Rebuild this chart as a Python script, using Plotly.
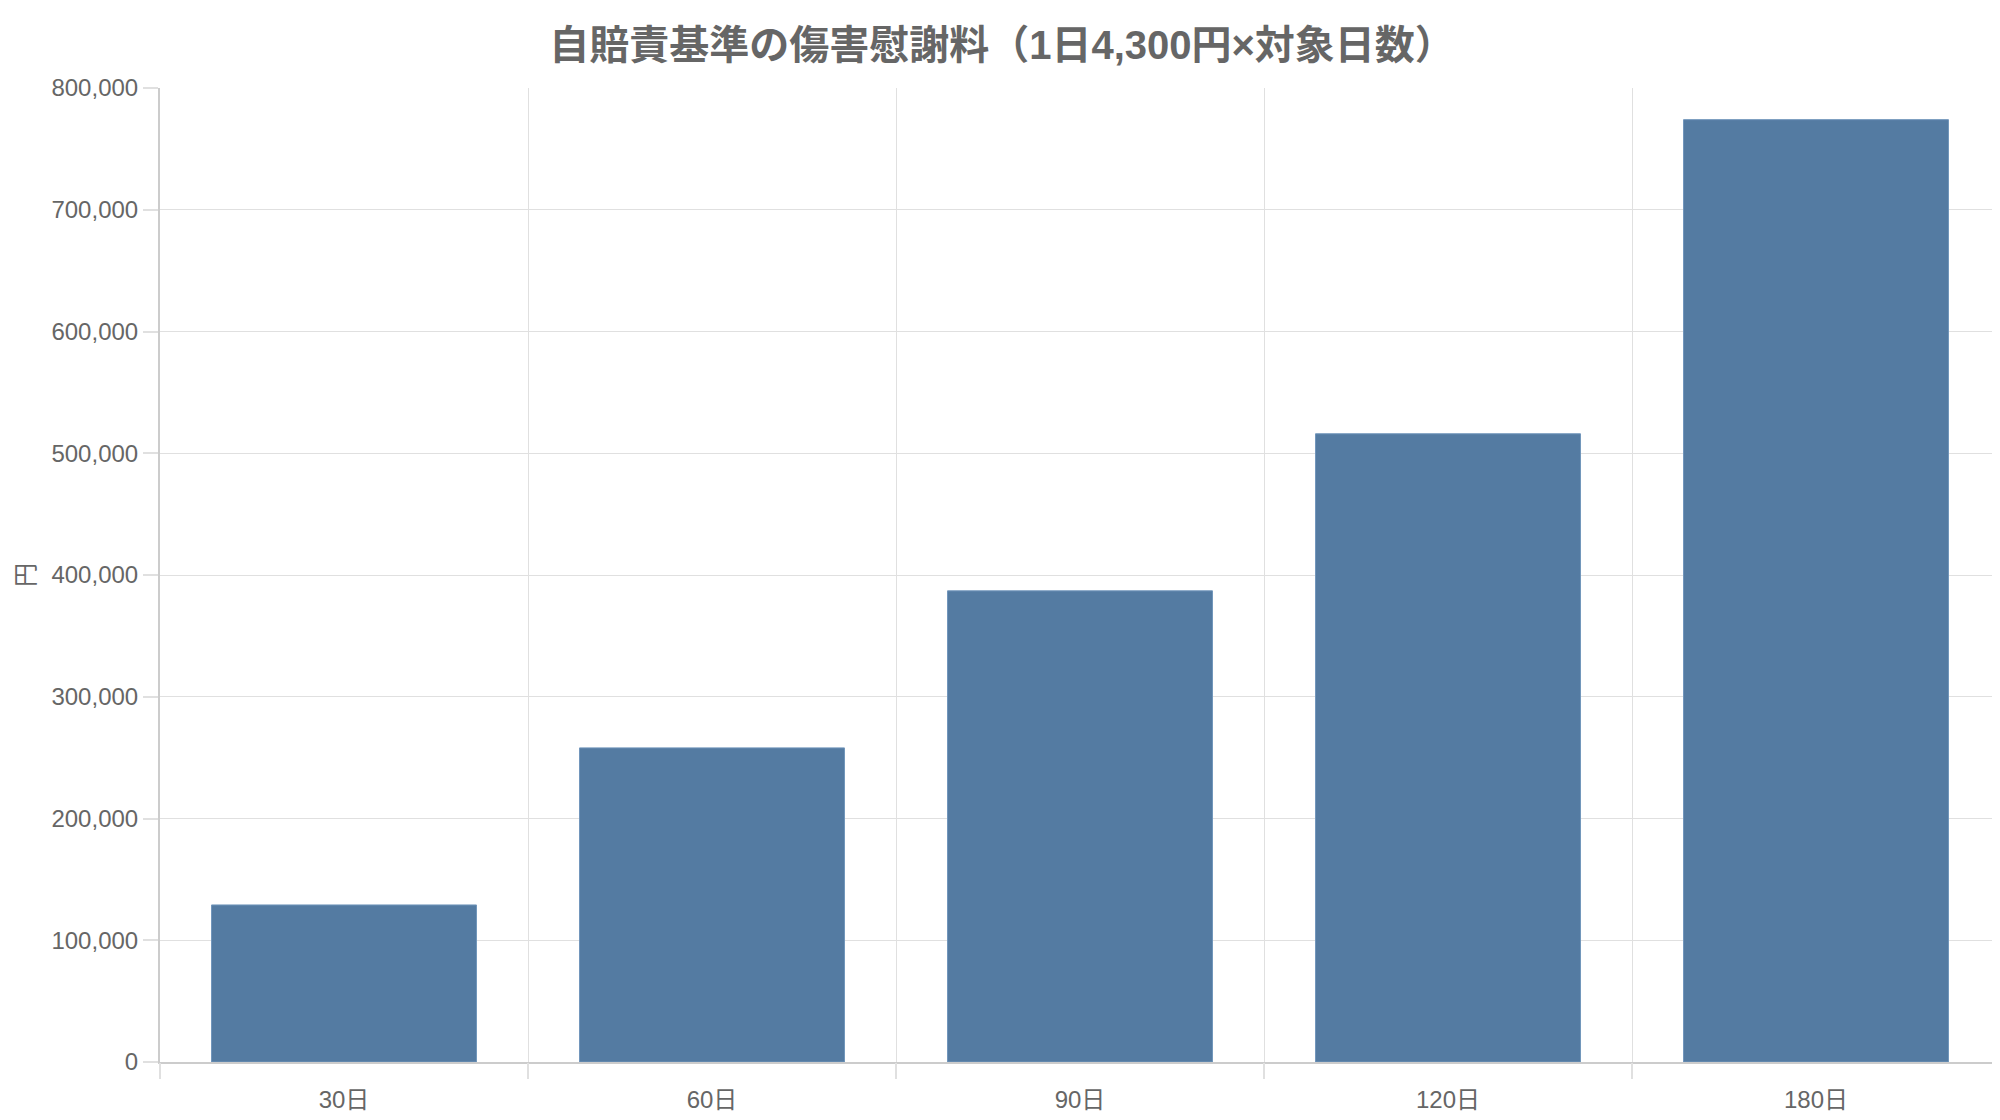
import plotly.graph_objects as go

# data
days = ['30日', '60日', '90日', '120日', '180日']
amounts = [129000, 258000, 387000, 516000, 774000]
boundaries = [-0.5, 0.5, 1.5, 2.5, 3.5, 4.5]

font_family = 'Liberation Sans, Arial, Noto Sans CJK JP, sans-serif'
grey_text = '#666666'
grid = '#e0e0e0'

fig = go.Figure()
fig.add_trace(go.Bar(
    x=list(range(len(days))),
    y=amounts,
    width=0.72,
    marker=dict(color='#547ba2', line=dict(color='#7196bb', width=1)),
    showlegend=False,
    hovertemplate='%{text}: %{y:,}円<extra></extra>',
    text=days,
    textposition='none',
))
# invisible trace so the second x axis (category boundaries) gets drawn
fig.add_trace(go.Scatter(x=[boundaries[0], boundaries[-1]], y=[0, 0], xaxis='x2',
                         mode='lines', line=dict(width=0), showlegend=False,
                         hoverinfo='skip'))

fig.update_layout(
    width=2000, height=1120,
    paper_bgcolor='white', plot_bgcolor='white',
    margin=dict(l=152, r=8, t=80, b=66),
    font=dict(family=font_family, color=grey_text, size=24),
    title=dict(text='<b>自賠責基準の傷害慰謝料（1日4,300円×対象日数）</b>',
               x=0.497, xanchor='center', y=0.967, yanchor='middle',
               font=dict(size=40, color=grey_text)),
    xaxis=dict(
        range=[boundaries[0], boundaries[-1]],
        tickvals=list(range(len(days))), ticktext=days,
        showgrid=False, zeroline=False,
        ticks='outside', ticklen=15, tickcolor='rgba(0,0,0,0)',
        showline=True, linecolor='#cccccc', linewidth=2,
        tickfont=dict(size=24, color=grey_text),
    ),
    xaxis2=dict(
        overlaying='x', side='bottom', anchor='y',
        range=[boundaries[0], boundaries[-1]],
        tickvals=boundaries, showticklabels=False,
        showgrid=True, gridcolor=grid, gridwidth=1,
        ticks='outside', ticklen=16, tickcolor=grid, tickwidth=2,
        zeroline=False, showline=False,
    ),
    yaxis=dict(
        range=[0, 800000], dtick=100000, tickformat=',',
        showgrid=True, gridcolor=grid, gridwidth=1,
        ticks='outside', ticklen=15, tickcolor=grid, tickwidth=2,
        showline=True, linecolor='#cccccc', linewidth=2,
        zeroline=False,
        tickfont=dict(size=24, color=grey_text),
        title=dict(text='円', font=dict(size=24, color=grey_text), standoff=10),
    ),
    bargap=0.28,
)

fig.write_html('out.html')
